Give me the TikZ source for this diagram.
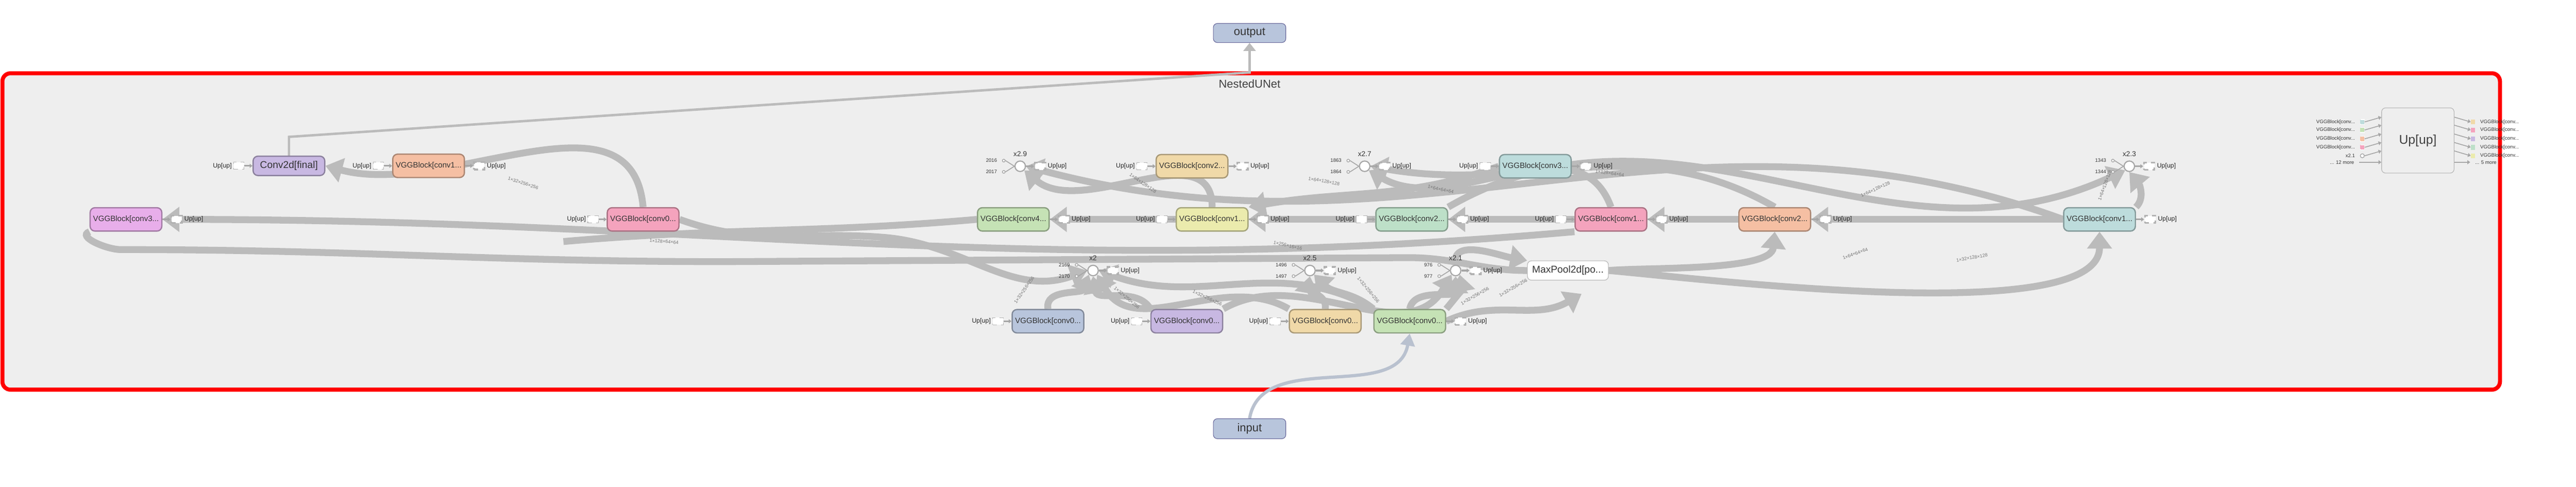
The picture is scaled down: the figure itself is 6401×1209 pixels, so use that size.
\documentclass[tikz,border=0pt]{standalone}
\usepackage{fontspec}
\setmainfont{Liberation Sans}
\usetikzlibrary{arrows.meta,calc,backgrounds}
\pgfdeclarelayer{bottom}
\pgfsetlayers{bottom,background,main}
\definecolor{gb}{HTML}{BBBBBB}
\definecolor{bg}{HTML}{EEEEEE}
\definecolor{cLav}{HTML}{C8B8E2}\definecolor{cOra}{HTML}{F5BFA3}
\definecolor{cPnk}{HTML}{F4A3BD}\definecolor{cVio}{HTML}{E8AEEA}
\definecolor{cTan}{HTML}{F0D9A8}\definecolor{cTea}{HTML}{BDDCDC}
\definecolor{cGrn}{HTML}{C5E2B5}\definecolor{cYel}{HTML}{EBEBAD}
\definecolor{cGT}{HTML}{BDE0C8}\definecolor{cBlu}{HTML}{B8C5DC}
\tikzset{
 blk/.style={draw=#1!70!black,fill=#1,line width=0.9pt,rounded corners=0.12cm,minimum width=1.78cm,minimum height=0.58cm,inner sep=1pt,font=\fontsize{5.5}{6}\selectfont,text=black!80},
 circ/.style={circle,draw=gray!70,fill=white,line width=0.8pt,minimum size=0.26cm,inner sep=0pt},
 scirc/.style={circle,draw=gray!70,fill=white,line width=0.5pt,minimum size=0.07cm,inner sep=0pt},
 clab/.style={font=\fontsize{5}{6}\selectfont,text=black!80},
 tiny/.style={font=\fontsize{3.5}{4}\selectfont,text=black!80},
 dimlab/.style={font=\fontsize{3.3}{4}\selectfont,text=black!55},
 pbox/.style={draw=gray!60,dashed,fill=white,minimum width=0.26cm,minimum height=0.18cm,inner sep=0pt},
 plab/.style={font=\fontsize{4.5}{5}\selectfont,text=black!85,inner sep=1pt},
 parr/.style={draw=gray!70,line width=1.2pt,-{Triangle[length=0.07cm,width=0.1cm]}},
 band/.style={draw=gb,line width=0.17cm,-{Triangle[length=0.42cm,width=0.6cm]}},
 bandn/.style={draw=gb,line width=0.17cm},
 io/.style={draw=gray!80!blue,fill=cBlu,rounded corners=0.1cm,minimum width=1.8cm,minimum height=0.46cm,font=\fontsize{8}{9}\selectfont,text=black!80},
}
\newcommand\myportR[1]{\draw[parr] (#1.east) -- ++(20,0) node[pbox,anchor=west](#1pr){}; \node[plab,anchor=west] at (#1pr.east) {Up[up]};}
\newcommand\myportL[1]{\node[pbox,anchor=east](#1pl) at ($(#1.west)+(-20,0)$){}; \draw[parr](#1pl.east)--(#1.west); \node[plab,anchor=east] at (#1pl.west){Up[up]};}
\newcommand\mycircin[3]{\node[scirc,anchor=east](#1a) at ($(#1.west)+(-22,-14)$){}; \node[scirc,anchor=east](#1b) at ($(#1.west)+(-22,14)$){};
 \node[tiny,anchor=east] at (#1a.west){#2}; \node[tiny,anchor=east] at (#1b.west){#3};
 \draw[draw=gray!70,line width=0.6pt] (#1a.east)--(#1.west) (#1b.east)--(#1.west);}
\begin{document}
\begin{tikzpicture}[x=0.01cm,y=-0.01cm]
\useasboundingbox (0,0) rectangle (6401,1209);
\begin{pgfonlayer}{bottom}
\fill[white] (0,0) rectangle (6401,1209);
\draw[red,line width=0.1cm,fill=bg,rounded corners=0.2cm] (6,182) rectangle (6212,968);
\end{pgfonlayer}
\node[font=\fontsize{8}{9}\selectfont,text=black!75] (title) at (3105,208) {NestedUNet};
% nodes
\node[io] (output) at (3105,82) {output};
\node[io] (input) at (3105,1065) {input};
\node[blk=cLav,minimum height=0.48cm,font=\fontsize{7}{8}\selectfont] (final) at (718,412) {Conv2d[final]};
\node[blk=cOra] (c1o) at (1065,412) {VGGBlock[conv1...};
\node[blk=cVio] (c3v) at (313,545) {VGGBlock[conv3...};
\node[blk=cPnk] (c0p) at (1598,545) {VGGBlock[conv0...};
\node[circ] (x29) at (2535,413) {};
\node[blk=cTan] (c2t) at (2962,413) {VGGBlock[conv2...};
\node[circ] (x27) at (3391,413) {};
\node[blk=cTea] (c3t) at (3815,413) {VGGBlock[conv3...};
\node[blk=cGrn] (c4g) at (2518,545) {VGGBlock[conv4...};
\node[blk=cYel] (c1y) at (3012,545) {VGGBlock[conv1...};
\node[blk=cGT] (c2g) at (3508,545) {VGGBlock[conv2...};
\node[blk=cPnk] (c1p) at (4003,545) {VGGBlock[conv1...};
\node[blk=cOra] (c2o) at (4410,545) {VGGBlock[conv2...};
\node[blk=cTea] (c1t) at (5217,545) {VGGBlock[conv1...};
\node[circ] (x23) at (5291,413) {};
\node[circ] (x2) at (2716,672) {};
\node[circ] (x25) at (3255,672) {};
\node[circ] (x21) at (3617,672) {};
\node[draw=gray!60,fill=white,rounded corners=0.1cm,minimum width=1.78cm,minimum height=0.48cm,font=\fontsize{7}{8}\selectfont,text=black!80] (mp) at (3896,672) {MaxPool2d[po...};
\node[blk=cBlu] (b0) at (2604,798) {VGGBlock[conv0...};
\node[blk=cLav] (p0) at (2949,798) {VGGBlock[conv0...};
\node[blk=cTan] (t0) at (3293,798) {VGGBlock[conv0...};
\node[blk=cGrn] (g0) at (3503,798) {VGGBlock[conv0...};
\node[draw=gray!60,fill=bg,rounded corners=0.1cm,minimum width=1.8cm,minimum height=1.62cm,font=\fontsize{9}{10}\selectfont,text=black!75] (up) at (6008,349) {Up[up]};
\coordinate (gout) at (3930,730);
\coordinate (obend) at (718,340);
\coordinate (otop) at (3105,180);
% circle labels
\foreach \n/\t in {x29/x2.9,x27/x2.7,x23/x2.3,x2/x2,x25/x2.5,x21/x2.1} {\node[clab,anchor=south] at ($(\n.north)+(0,2)$) {\t};}
\mycircin{x29}{2016}{2017}
\mycircin{x27}{1863}{1864}
\mycircin{x23}{1343}{1344}
\mycircin{x2}{2169}{2170}
\mycircin{x25}{1496}{1497}
\mycircin{x21}{976}{977}
% ports
\foreach \n in {c1o,c3v,x29,c2t,x27,c3t,c4g,c1y,c2g,c1p,c2o,c1t,x23,x2,x25,x21,g0} {\myportR{\n}}
\foreach \n in {final,c1o,c0p,c2t,c3t,c1y,c2g,c1p,b0,p0,t0} {\myportL{\n}}
% Up legend
\foreach \i/\c/\yy in {1/cTea/303,2/cGrn/323,3/cOra/345,4/cPnk/366} {
 \node[fill=\c,draw=white,dashed,minimum width=0.1cm,minimum height=0.12cm,inner sep=0pt] (ul\i) at (5870,\yy) {};
 \node[tiny,anchor=east] at (ul\i.west) {VGGBlock[conv...};
 \draw[parr,line width=0.6pt] (ul\i.east) -- ($(up.west)+(0,\yy-349-12)$);}
\node[scirc,minimum size=0.1cm] (ul5) at (5870,387) {}; \node[tiny,anchor=east] at (ul5.west) {x2.1};
\draw[parr,line width=0.6pt] (ul5.east) -- ($(up.west)+(0,26)$);
\node[tiny,anchor=east] (ul6) at (5862,403) {... 12 more}; \draw[parr,line width=0.6pt] (ul6.east) -- ($(up.west)+(0,54)$);
\foreach \i/\c/\yy in {1/cTan/303,2/cPnk/323,3/cLav/345,4/cGT/366,5/cYel/387} {
 \node[fill=\c,minimum width=0.1cm,minimum height=0.12cm,inner sep=0pt] (ur\i) at (6145,\yy) {};
 \node[tiny,anchor=west] at (ur\i.east) {VGGBlock[conv...};
 \draw[parr,line width=0.6pt] ($(up.east)+(0,\yy-349-12)$) -- (ur\i.west);}
\node[tiny,anchor=west] (ur6) at (6138,403) {... 5 more}; \draw[parr,line width=0.6pt] ($(up.east)+(0,54)$) -- (ur6.west);
% edges
\begin{scope}[on background layer]
\draw[draw=gb,line width=0.06cm,-{Triangle[length=0.2cm,width=0.3cm]}] (final.north) -- (obend) -- (otop) -- (output.south);
\draw[draw=cBlu!60!gb,line width=0.08cm,-{Triangle[length=0.3cm,width=0.35cm]}] (input.north) to[out=80,in=-100] (g0.south);
\draw[band] (c0p.north) to[out=95,in=-15] (final.east);
\draw[band] (c1p.south west) to[out=185,in=0] (c3v.east);
\draw[bandn] (c3v.south west) to[out=200,in=180] (300,620) to[out=0,in=180] (1800,650) -- (3500,640) to[out=0,in=180] (mp.west);
\draw[band] (c0p.east) to[out=-20,in=175] (2200,590) to[out=-5,in=200] (x2.west);
\draw[band] (c1y.north) to[out=90,in=-40] (x29.south east);
\draw[band] (c1t.west) to[out=160,in=-15] (x29.east);
\draw[band] (c1p.north) to[out=110,in=-30] (x27.south east);
\draw[band] (c2o.north) to[out=150,in=-10] (x27.east);
\draw[band] (c2g.north east) to[out=30,in=205] (x23.south west);
\draw[band] (c1t.north east) to[out=45,in=-50] (x23.south);
\draw[band] (c1t.west) to[out=180,in=0] (c2o.east);
\draw[band] (c2o.west) -- (c1p.east);
\draw[band] (c1p.west) -- (c2g.east);
\draw[band] (c2g.west) -- (c1y.east);
\draw[band] (c1y.west) -- (c4g.east);
\draw[bandn] (c4g.west) to[out=185,in=5] (1400,600);
\draw[band] (c3t.west) to[out=200,in=10] (c1y.north east);
\draw[band] (b0.north) to[out=100,in=-110] (x2.south west);
\draw[band] (p0.north west) to[out=120,in=-80] (x2.south);
\draw[band] (t0.north west) to[out=150,in=-60] (x2.south east);
\draw[band] (t0.north) to[out=80,in=-100] (x25.south);
\draw[band] (g0.north west) to[out=140,in=-45] (x25.south east);
\draw[band] (p0.north east) to[out=30,in=-120] (x21.south west);
\draw[band] (g0.north) to[out=80,in=-90] (x21.south);
\draw[band] (g0.north east) to[out=50,in=-80] (x21.south east);
\draw[band] (g0.north west) to[out=150,in=-20] (x2.east);
\draw[band] (g0.east) to[out=25,in=210] (gout);
\draw[band] (x21.north) to[out=100,in=170] (mp.north west);
\draw[band] (mp.east) to[out=5,in=-95,looseness=0.6] (c2o.south);
\draw[band] (mp.east) to[out=-5,in=-90,looseness=0.5] (c1t.south);
\end{scope}
% dimension labels
\node[dimlab,rotate=-18] at (1300,455) {1×32×256×256};
\node[dimlab,rotate=-4] at (1650,600) {1×128×64×64};
\node[dimlab,rotate=-35] at (2840,455) {1×64×128×128};
\node[dimlab,rotate=-10] at (3290,450) {1×64×128×128};
\node[dimlab,rotate=-12] at (3580,470) {1×64×64×64};
\node[dimlab,rotate=-8] at (4000,430) {1×128×64×64};
\node[dimlab,rotate=-12] at (3200,610) {1×256×16×16};
\node[dimlab,rotate=25] at (4660,470) {1×64×128×128};
\node[dimlab,rotate=70] at (5230,460) {1×64×128×128};
\node[dimlab,rotate=20] at (4610,630) {1×64×64×64};
\node[dimlab,rotate=10] at (4900,640) {1×32×128×128};
\node[dimlab,rotate=55] at (2545,720) {1×32×256×256};
\node[dimlab,rotate=-40] at (2800,740) {1×32×256×256};
\node[dimlab,rotate=-25] at (3000,740) {1×32×256×256};
\node[dimlab,rotate=-50] at (3400,720) {1×32×256×256};
\node[dimlab,rotate=30] at (3665,735) {1×32×256×256};
\node[dimlab,rotate=30] at (3760,715) {1×32×256×256};
\end{tikzpicture}
\end{document}
